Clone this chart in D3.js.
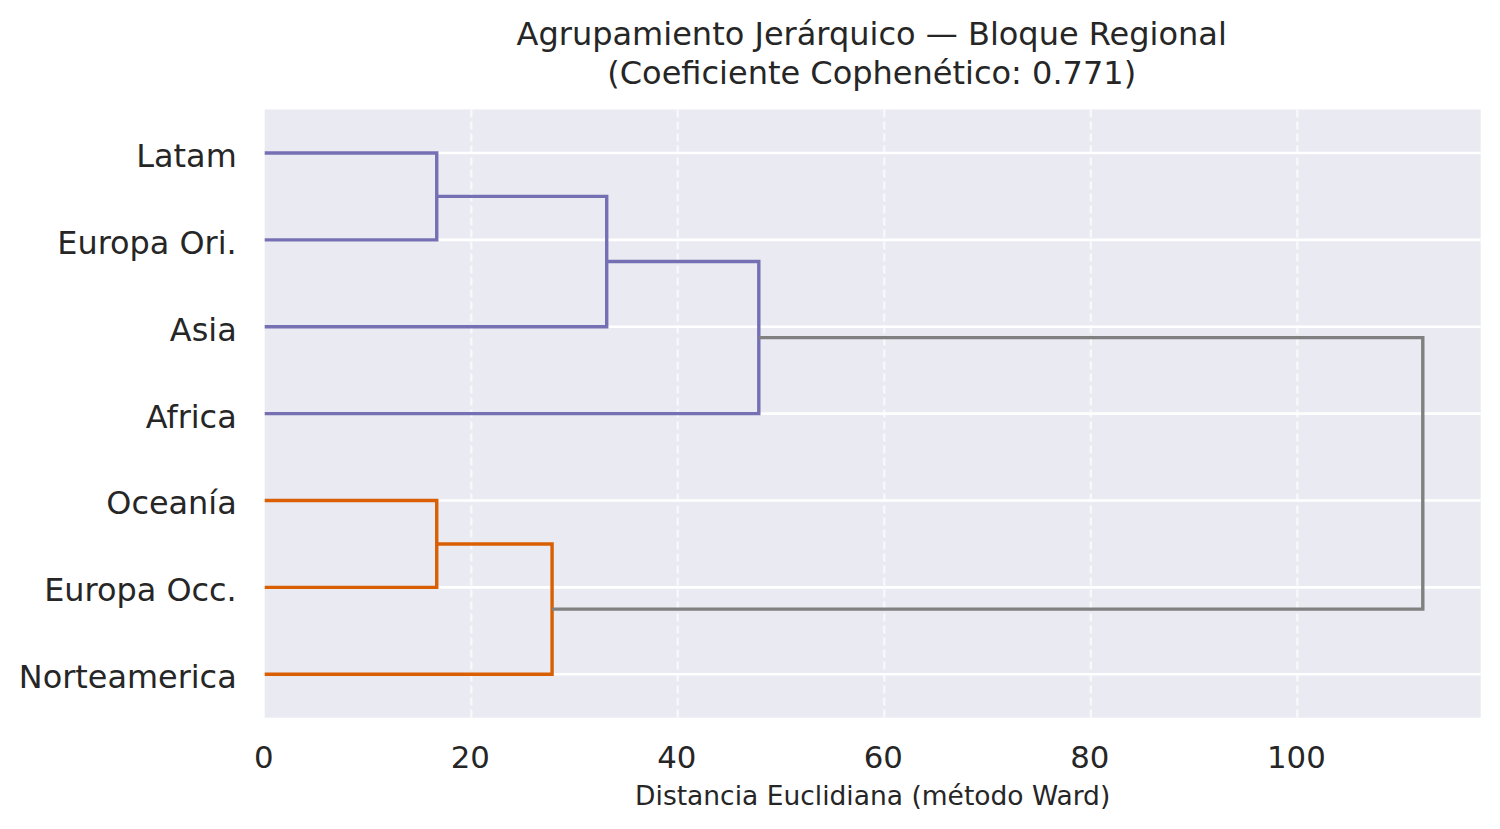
<!DOCTYPE html>
<html>
<head>
<meta charset="utf-8">
<script src="https://cdn.jsdelivr.net/npm/d3@7"></script>
<style>
  html, body { margin: 0; padding: 0; background: #ffffff; }
  svg { display: block; }
  text { font-family: "DejaVu Sans", sans-serif; fill: #262626; }
</style>
</head>
<body>
<svg id="chart" width="1500" height="829"></svg>
<script>
// ---- Data ----
const leaves = ["Latam", "Europa Ori.", "Asia", "Africa", "Oceanía", "Europa Occ.", "Norteamerica"];
// merges: node id = 7 + index
const mergeLeft   = [0, 7, 8, 4, 10, 9];
const mergeRight  = [1, 2, 3, 5, 6, 11];
const mergeHeight = [16.66, 33.12, 47.85, 16.66, 27.83, 112.15];
const mergeColor  = ["#7570b3", "#7570b3", "#7570b3", "#d95f02", "#d95f02", "#808080"];
const xTicks = [0, 20, 40, 60, 80, 100];
const titleLines = ["Agrupamiento Jerárquico — Bloque Regional", "(Coeficiente Cophenético: 0.771)"];
const xLabel = "Distancia Euclidiana (método Ward)";

// ---- Layout ----
const plot = { left: 264.7, right: 1480.7, top: 109.5, bottom: 717.7 };
const svg = d3.select("#chart");

const xMax = d3.max(mergeHeight) * 1.05;
const x = d3.scaleLinear().domain([0, xMax]).range([plot.left, plot.right]);
const y = d3.scaleLinear().domain([0, leaves.length * 10]).range([plot.top, plot.bottom]);

// background
svg.append("rect")
  .attr("x", plot.left).attr("y", plot.top)
  .attr("width", plot.right - plot.left).attr("height", plot.bottom - plot.top)
  .attr("fill", "#eaeaf2");

// node positions
const nodeX = [], nodeY = [];
leaves.forEach((d, i) => { nodeX[i] = 0; nodeY[i] = 5 + 10 * i; });
mergeLeft.forEach((l, k) => {
  const id = leaves.length + k;
  nodeX[id] = mergeHeight[k];
  nodeY[id] = (nodeY[l] + nodeY[mergeRight[k]]) / 2;
});

// horizontal grid (leaf ticks)
svg.append("g").selectAll("line").data(leaves).join("line")
  .attr("x1", plot.left).attr("x2", plot.right)
  .attr("y1", (d, i) => y(nodeY[i])).attr("y2", (d, i) => y(nodeY[i]))
  .attr("stroke", "#ffffff").attr("stroke-width", 2.6);

// vertical dashed grid
svg.append("g").selectAll("line").data(xTicks.filter(t => t > 0)).join("line")
  .attr("x1", d => x(d)).attr("x2", d => x(d))
  .attr("y1", plot.top).attr("y2", plot.bottom)
  .attr("stroke", "#ffffff").attr("stroke-opacity", 0.65)
  .attr("stroke-width", 2.4).attr("stroke-dasharray", "8,4");

// dendrogram links
const links = svg.append("g");
mergeLeft.forEach((l, k) => {
  const r = mergeRight[k];
  const h = mergeHeight[k];
  const p = d3.path();
  p.moveTo(x(nodeX[l]), y(nodeY[l]));
  p.lineTo(x(h), y(nodeY[l]));
  p.lineTo(x(h), y(nodeY[r]));
  p.lineTo(x(nodeX[r]), y(nodeY[r]));
  links.append("path")
    .attr("d", p.toString())
    .attr("fill", "none")
    .attr("stroke", mergeColor[k])
    .attr("stroke-width", 3.4)
    .attr("stroke-linejoin", "miter")
    .attr("stroke-linecap", "butt");
});

// x axis
const xAxis = d3.axisBottom(x).tickValues(xTicks).tickSize(0).tickPadding(0).tickFormat(d3.format("d"));
const gx = svg.append("g").attr("transform", `translate(0,${plot.bottom})`).call(xAxis);
gx.select(".domain").remove();
gx.selectAll("text")
  .attr("x", -1.5).attr("y", 50).attr("dy", null)
  .style("font-size", "30.8px").style("fill", "#262626")
  .attr("font-family", "DejaVu Sans");

// y axis
const yAxis = d3.axisLeft(y).tickValues(leaves.map((d, i) => nodeY[i]))
  .tickFormat((d, i) => leaves[i]).tickSize(0).tickPadding(0);
const gy = svg.append("g").attr("transform", `translate(${plot.left},0)`).call(yAxis);
gy.select(".domain").remove();
gy.selectAll("text")
  .attr("x", -28).attr("dy", "0.42em")
  .style("font-size", "31.9px").style("fill", "#262626")
  .attr("font-family", "DejaVu Sans");

// title
const cx = (plot.left + plot.right) / 2;
svg.append("text").attr("x", cx - 1).attr("y", 45).attr("text-anchor", "middle")
  .style("font-size", "32px").text(titleLines[0]);
svg.append("text").attr("x", cx - 1).attr("y", 83.5).attr("text-anchor", "middle")
  .style("font-size", "32px").text(titleLines[1]);

// x label
svg.append("text").attr("x", cx).attr("y", 805).attr("text-anchor", "middle")
  .style("font-size", "26.5px").text(xLabel);
</script>
</body>
</html>
